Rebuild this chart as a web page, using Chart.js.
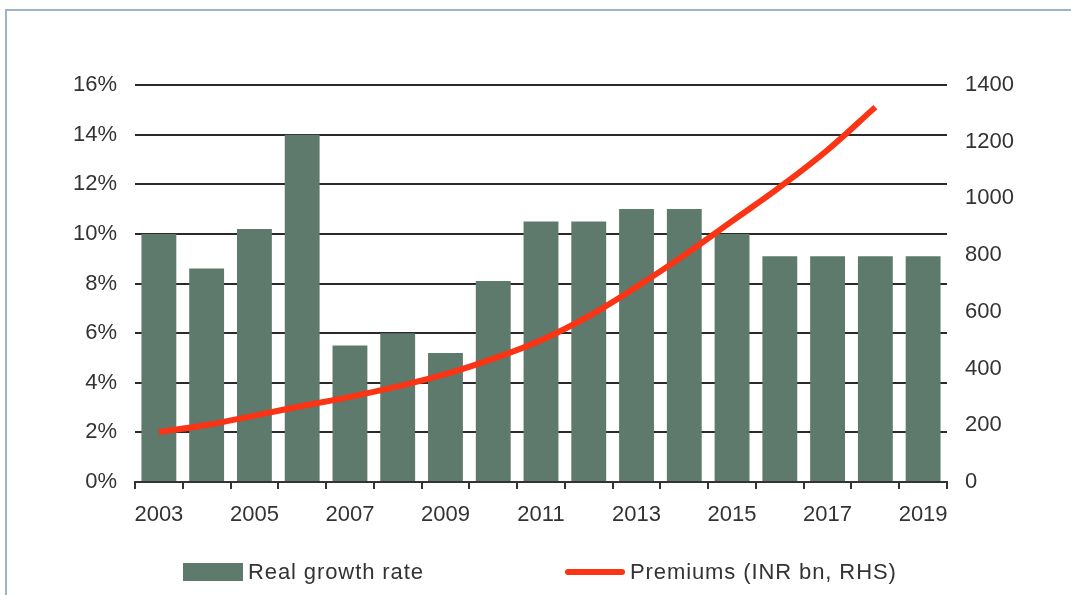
<!DOCTYPE html>
<html lang="en">
  <head>
    <meta charset="UTF-8" />
    <title>Real growth rate and premiums</title>
    <script src="https://cdn.jsdelivr.net/npm/chart.js"></script>
    <style>
      html,
      body {
        margin: 0;
        padding: 0;
        background: #fff;
      }
      .wrap {
        position: relative;
        width: 1071px;
        height: 595px;
      }
      .frame {
        position: absolute;
        left: 5px;
        top: 9px;
        right: 0;
        bottom: 0;
        border-left: 2px solid #9db3c9;
        border-top: 2px solid #9db3c9;
        pointer-events: none;
      }
      .legend {
        position: absolute;
        top: 559px;
        left: 0;
        height: 26px;
        font-family: "Liberation Sans", Arial, sans-serif;
        font-size: 22px;
        letter-spacing: 0.9px;
        color: #333;
      }
      .legend-item {
        position: absolute;
        top: 0;
        display: flex;
        align-items: center;
        white-space: nowrap;
        height: 26px;
      }
      .legend-item .swatch {
        margin-right: 5px;
      }
    </style>
  </head>
  <body>
    <div class="wrap">
      <canvas id="growthChart" width="1071" height="595"></canvas>
      <div class="frame"></div>
      <div class="legend" id="legend"></div>
    </div>

    <script>
      const years = [
        "2003", "2004", "2005", "2006", "2007", "2008", "2009", "2010", "2011",
        "2012", "2013", "2014", "2015", "2016", "2017", "2018", "2019",
      ];
      // real growth rate, % (left axis)
      const growthRate = [
        10.0, 8.6, 10.2, 14.0, 5.5, 6.0, 5.2, 8.1, 10.5, 10.5, 11.0, 11.0, 10.0,
        9.1, 9.1, 9.1, 9.1,
      ];
      // premiums, INR bn (right axis)
      const premiums = [
        176, 201, 234, 268, 300, 337, 380, 435, 500, 585, 688, 800, 920, 1040,
        1171, 1322, null,
      ];
      const leftTicks = [0, 2, 4, 6, 8, 10, 12, 14, 16];
      const rightTicks = [0, 200, 400, 600, 800, 1000, 1200, 1400];

      const barColor = "#5d7a6d";
      const lineColor = "#fa3414";
      const textColor = "#333";
      const font = { family: "'Liberation Sans', Arial, sans-serif", size: 22 };

      Chart.defaults.color = textColor;
      Chart.defaults.font = font;

      const chart = new Chart(document.getElementById("growthChart"), {
        data: {
          labels: years,
          datasets: [
            {
              type: "bar",
              label: "Real growth rate",
              data: growthRate,
              backgroundColor: barColor,
              yAxisID: "y",
              order: 2,
              categoryPercentage: 1,
              barPercentage: 0.73,
            },
            {
              type: "line",
              label: "Premiums (INR bn, RHS)",
              data: premiums,
              borderColor: lineColor,
              backgroundColor: lineColor,
              borderWidth: 6,
              pointRadius: 0,
              tension: 0.4,
              yAxisID: "y1",
              order: 1,
            },
          ],
        },
        options: {
          responsive: false,
          animation: false,
          layout: {
            padding: { top: 85, bottom: 63, left: 0, right: 0 },
          },
          plugins: {
            legend: { display: false },
            tooltip: { enabled: false },
          },
          scales: {
            x: {
              offset: true,
              grid: {
                offset: true,
                drawOnChartArea: false,
                drawTicks: true,
                tickLength: 7,
                color: "#333",
                lineWidth: 2,
              },
              border: { color: "#333", width: 2 },
              ticks: {
                autoSkip: false,
                maxRotation: 0,
                padding: 13,
                callback: (v, i) => (i % 2 === 0 ? years[i] : ""),
              },
              afterFit: (scale) => {
                scale.height = 50;
              },
            },
            y: {
              position: "left",
              min: leftTicks[0],
              max: leftTicks[leftTicks.length - 1],
              afterBuildTicks: (scale) => {
                scale.ticks = leftTicks.map((v) => ({ value: v }));
              },
              grid: { color: "#2a2a2a", lineWidth: 2, drawTicks: false },
              border: { display: false },
              ticks: {
                padding: 18,
                callback: (v) => v + "%",
              },
              afterFit: (scale) => {
                scale.width = 135;
              },
            },
            y1: {
              position: "right",
              min: rightTicks[0],
              max: rightTicks[rightTicks.length - 1],
              afterBuildTicks: (scale) => {
                scale.ticks = rightTicks.map((v) => ({ value: v }));
              },
              grid: { drawOnChartArea: false, drawTicks: false },
              border: { display: false },
              ticks: { padding: 18, callback: (v) => String(v) },
              afterFit: (scale) => {
                scale.width = 124;
              },
            },
          },
        },
      });

      // legend under the axis, built from the chart's datasets
      const legend = document.getElementById("legend");
      const legendX = [183, 565];
      chart.data.datasets.forEach((ds, i) => {
        const item = document.createElement("div");
        item.className = "legend-item";
        item.style.left = legendX[i] + "px";
        const swatch = document.createElement("span");
        swatch.className = "swatch";
        swatch.style.display = "inline-block";
        swatch.style.width = "60px";
        swatch.style.background = ds.type === "bar" ? ds.backgroundColor : ds.borderColor;
        swatch.style.height = ds.type === "bar" ? "18px" : "6px";
        if (ds.type !== "bar") swatch.style.borderRadius = "3px";
        item.appendChild(swatch);
        const text = document.createElement("span");
        text.textContent = ds.label;
        item.appendChild(text);
        legend.appendChild(item);
      });
    </script>
  </body>
</html>
